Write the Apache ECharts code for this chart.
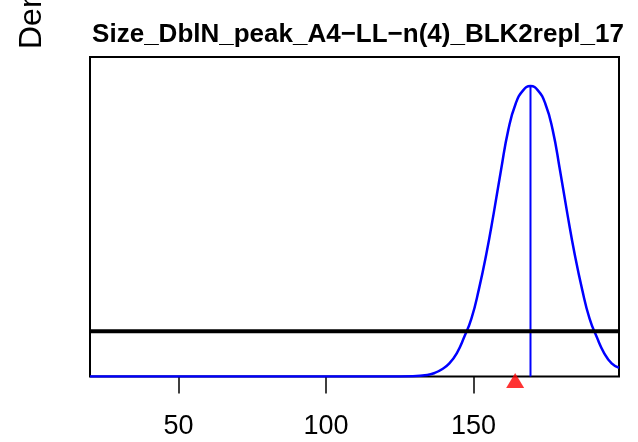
<!DOCTYPE html>
<html>
<head>
<meta charset="utf-8">
<script src="https://cdn.jsdelivr.net/npm/echarts@6/dist/echarts.min.js"></script>
<style>html,body{margin:0;padding:0;background:#fff}#c{width:638px;height:442px}</style>
</head>
<body>
<div id="c"></div>
<script>
var titleText = "Size_DblN_peak_A4\u2212LL\u2212n(4)_BLK2repl_17";
var yLabel = "Density";
var sizeX = [20, 100, 120, 129.3, 134.3, 136.8, 139.3, 141.8, 144.3, 146.8, 149.3, 151.8, 154.3, 156.8, 159.3, 161.8, 164.3, 166.8, 169.3, 171.8, 174.3, 176.8, 179.3, 181.8, 184.3, 186.8, 189.3, 191.8, 194.3, 196.8, 199.3];
var density = [0, 0, 0.0002, 0.001, 0.005, 0.012, 0.025, 0.045, 0.08, 0.135, 0.20, 0.30, 0.42, 0.56, 0.71, 0.85, 0.94, 0.985, 1.0, 0.985, 0.94, 0.85, 0.71, 0.56, 0.42, 0.30, 0.20, 0.135, 0.08, 0.045, 0.03];
var peakX = 169.3;
var peakY = 1.0;
var refLevel = 0.156;
var obsX = 164.1;
var xTicks = [50, 100, 150];
var xMin = 20, xMax = 199.3, yMin = 0, yMax = 1.1;

var curve = sizeX.map(function (x, i) { return [x, density[i]]; });
var chart = echarts.init(document.getElementById('c'));
chart.setOption({
  animation: false,
  backgroundColor: '#fff',
  title: {
    text: titleText, left: 353, top: 17, textAlign: 'center',
    textStyle: { fontFamily: 'Liberation Sans, Arial, sans-serif', fontWeight: 'bold', fontSize: 26, color: '#000' }
  },
  graphic: [{
    type: 'text', x: 32, y: 49, rotation: Math.PI / 2,
    style: { text: yLabel, fontFamily: 'Liberation Sans, Arial, sans-serif', fontSize: 32, fill: '#000', align: 'left', verticalAlign: 'middle' }
  }],
  grid: { left: 90, right: 19, top: 57, bottom: 65.5, show: true, borderColor: '#000', borderWidth: 2, backgroundColor: 'transparent' },
  xAxis: {
    type: 'value', min: xMin, max: xMax,
    axisLine: { show: false },
    splitLine: { show: false },
    axisTick: { show: true, customValues: xTicks, length: 17, lineStyle: { color: '#000', width: 1.5 } },
    axisLabel: { show: true, customValues: xTicks, margin: 37, fontSize: 27, color: '#000', fontFamily: 'Liberation Sans, Arial, sans-serif' }
  },
  yAxis: {
    type: 'value', min: yMin, max: yMax,
    axisLine: { show: false }, axisTick: { show: false }, axisLabel: { show: false }, splitLine: { show: false }
  },
  series: [
    { type: 'line', data: curve, smooth: 0.5, showSymbol: false, lineStyle: { color: '#0000ff', width: 2.5 }, z: 3 },
    { type: 'line', data: [[peakX, 0], [peakX, peakY]], showSymbol: false, lineStyle: { color: '#0000ff', width: 2 }, z: 3 },
    { type: 'line', data: [[xMin, refLevel], [xMax, refLevel]], showSymbol: false, lineStyle: { color: '#000', width: 4 }, z: 4 },
    { type: 'scatter', data: [[obsX, 0]], symbol: 'triangle', symbolSize: [18, 15], symbolOffset: [0, 4], clip: false, itemStyle: { color: '#ff0000' }, z: 5 }
  ]
});
</script>
</body>
</html>
